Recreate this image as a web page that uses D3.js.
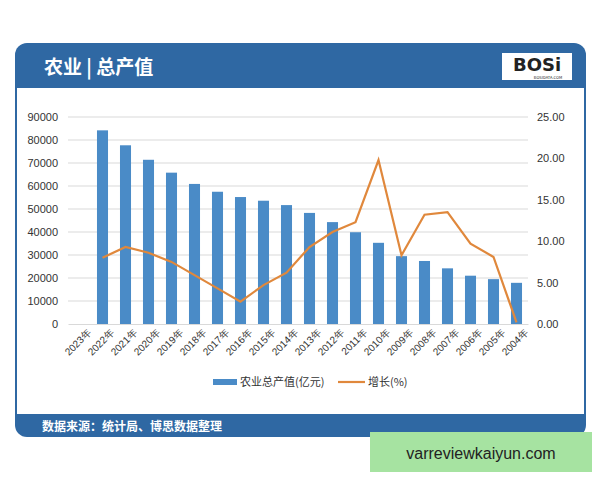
<!DOCTYPE html>
<html><head><meta charset="utf-8">
<script src="https://cdn.jsdelivr.net/npm/d3@7.9.0/dist/d3.min.js"></script>
<style>body{margin:0;background:#fff;font-family:"Noto Sans CJK SC","Noto Sans",sans-serif}</style>
</head><body>
<svg id="chart" width="600" height="480"></svg>
<script>
const years = ['2023年','2022年','2021年','2020年','2019年','2018年','2017年','2016年','2015年','2014年','2013年','2012年','2011年','2010年','2009年','2008年','2007年','2006年','2005年','2004年'];
const output = [null,84200,77700,71400,65800,60900,57500,55200,53600,51700,48300,44300,39900,35300,29500,27400,24200,21000,19500,17900];
const growth = [null,8.0,9.3,8.6,7.5,5.9,4.3,2.7,4.7,6.2,9.3,11.1,12.3,19.8,8.3,13.2,13.5,9.7,8.1,0.2];
const leftTicks = d3.range(0, 90001, 10000);
const rightTicks = [0, 5, 10, 15, 20, 25];

const svg = d3.select('#chart');
const blue = '#2f68a3';

// frame
svg.append('rect').attr('x', 15).attr('y', 43).attr('width', 571).attr('height', 394)
  .attr('rx', 12).attr('fill', blue);
svg.append('rect').attr('x', 17).attr('y', 88).attr('width', 567).attr('height', 326).attr('fill', '#fff');
svg.append('text').attr('x', 44).attr('y', 74).attr('fill', '#fff').attr('font-size', 19)
  .attr('font-weight', 'bold').text('农业 | 总产值');
// logo
svg.append('rect').attr('x', 502).attr('y', 53).attr('width', 70).attr('height', 27).attr('fill', '#fff');
svg.append('text').attr('x', 537).attr('y', 71).attr('text-anchor', 'middle').attr('font-size', 18)
  .attr('font-weight', 'bold').attr('font-family', 'DejaVu Sans').attr('fill', '#222').text('BOSi');
svg.append('text').attr('x', 548).attr('y', 78.5).attr('text-anchor', 'middle').attr('font-size', 4)
  .attr('fill', '#222').text('BOSIDATA.COM');
svg.append('text').attr('x', 42).attr('y', 431).attr('fill', '#fff').attr('font-size', 12)
  .attr('font-weight', 'bold').text('数据来源：统计局、博思数据整理');

const x = d3.scaleBand().domain(years).range([68, 528]).paddingInner(0.52).paddingOuter(0.26);
const yL = d3.scaleLinear().domain([0, 90000]).range([324, 117]);
const yR = d3.scaleLinear().domain([0, 25]).range([324, 117]);

svg.append('g').selectAll('line').data(leftTicks.slice(1)).join('line')
  .attr('x1', 68).attr('x2', 528).attr('y1', d => yL(d)).attr('y2', d => yL(d))
  .attr('stroke', '#d9d9d9');

const axL = svg.append('g').attr('transform', 'translate(68,0)')
  .call(d3.axisLeft(yL).tickValues(leftTicks).tickSize(0).tickPadding(10).tickFormat(d3.format('d')));
axL.select('.domain').remove();
const axR = svg.append('g').attr('transform', 'translate(528,0)')
  .call(d3.axisRight(yR).tickValues(rightTicks).tickSize(0).tickPadding(9).tickFormat(d3.format('.2f')));
axR.select('.domain').remove();
svg.selectAll('.tick text').attr('font-size', 11).attr('fill', '#333').attr('font-family', 'Liberation Sans, Arial');

const axB = svg.append('g').attr('transform', 'translate(0,324)')
  .call(d3.axisBottom(x).tickSize(0).tickPadding(6));
axB.select('.domain').attr('stroke', '#d9d9d9');
axB.selectAll('text').attr('font-size', 10).attr('fill', '#333')
  .attr('text-anchor', 'end').attr('transform', 'translate(3,0) rotate(-45)');

svg.append('g').selectAll('rect').data(years.map((y, i) => ({ y, v: output[i] })).filter(d => d.v != null))
  .join('rect').attr('x', d => x(d.y)).attr('width', x.bandwidth())
  .attr('y', d => yL(d.v)).attr('height', d => yL(0) - yL(d.v)).attr('fill', '#4a8bc7');

const pts = years.map((y, i) => ({ y, v: growth[i] })).filter(d => d.v != null);
svg.append('path').datum(pts).attr('fill', 'none').attr('stroke', '#e0883c').attr('stroke-width', 2.2)
  .attr('d', d3.line().x(d => x(d.y) + x.bandwidth() / 2).y(d => yR(d.v)));

// legend
const lg = svg.append('g').attr('transform', 'translate(213,383)');
lg.append('rect').attr('x', 0).attr('y', -4).attr('width', 24).attr('height', 6).attr('fill', '#4a8bc7');
lg.append('text').attr('x', 27).attr('y', 3).attr('font-size', 11).attr('fill', '#333').text('农业总产值(亿元)');
lg.append('line').attr('x1', 125).attr('x2', 152).attr('y1', -1).attr('y2', -1).attr('stroke', '#e0883c').attr('stroke-width', 2.2);
lg.append('text').attr('x', 155).attr('y', 3).attr('font-size', 11).attr('fill', '#333').text('增长(%)');

// green badge
svg.append('rect').attr('x', 370).attr('y', 432).attr('width', 222).attr('height', 40).attr('fill', '#a6e3a1');
svg.append('text').attr('x', 481).attr('y', 459).attr('text-anchor', 'middle').attr('font-size', 16)
  .attr('font-family', 'Liberation Sans, Arial').attr('fill', '#222').text('varreviewkaiyun.com');
</script>
</body></html>
